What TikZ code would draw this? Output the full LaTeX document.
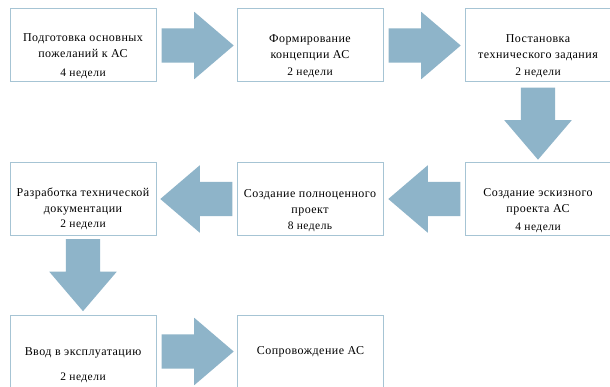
\documentclass[tikz,border=0pt]{standalone}
\usepackage{fontspec}
\setmainfont{Liberation Serif}[LetterSpace=4]
\usetikzlibrary{shapes.arrows,calc}
\definecolor{boxc}{RGB}{166,196,212}
\definecolor{arrc}{RGB}{142,180,201}
\tikzset{
  stagebox/.style={draw=boxc, line width=1pt, fill=white, minimum width=146pt, minimum height=73pt, inner sep=0pt},
  stagetext/.style={align=center, inner sep=0pt, font=\fontsize{12}{16}\selectfont},
  blockarrow/.style={single arrow, fill=arrc, draw=none, inner xsep=0pt, inner ysep=17pt,
     single arrow head extend=16.5pt, single arrow tip angle=81, single arrow head indent=0pt,
     minimum height=72pt, anchor=tail}
}
\newcommand{\wk}{\fontsize{11.5}{16}\selectfont}
\begin{document}
\begin{tikzpicture}[x=1pt,y=-1pt]
\useasboundingbox (0,0) rectangle (610,387);
\clip (0,0) rectangle (610,387);
\fill[white] (0,0) rectangle (610,387);
% boxes
\node[stagebox] (b1) at (83,45.5) {};
\node[stagebox] (b2) at (310,45.5) {};
\node[stagebox] (b3) at (538,45.5) {};
\node[stagebox] (b4) at (83,199) {};
\node[stagebox] (b5) at (310,199) {};
\node[stagebox] (b6) at (538,199) {};
\node[stagebox] (b7) at (83,351.5) {};
\node[stagebox] (b8) at (310.5,351.5) {};
% texts
\node[stagetext] (t1) at ($(b1.center)+(0,11)$) {Подготовка основных\\пожеланий к АС\\[3pt]\wk 4 недели};
\node[stagetext] (t2) at ($(b2.center)+(0,11)$) {Формирование\\концепции АС\\[1pt]\wk 2 недели};
\node[stagetext] (t3) at ($(b3.center)+(0,11)$) {Постановка\\технического задания\\[1pt]\wk 2 недели};
\node[stagetext] (t4) at ($(b4.center)+(0,10)$) {Разработка технической\\документации\\[-1pt]\wk 2 недели};
\node[stagetext] (t5) at ($(b5.center)+(0,12)$) {Создание полноценного\\проект\\[0pt]\wk 8 недель};
\node[stagetext] (t6) at ($(b6.center)+(0,12)$) {Создание эскизного\\проекта АС\\[2pt]\wk 4 недели};
\node[stagetext] (t7) at ($(b7.center)+(0,13.5)$) {Ввод в эксплуатацию\\[9pt]\wk 2 недели};
\node[stagetext] (t8) at ($(b8.center)+(0,0.5)$) {Сопровождение АС};
% arrows
\node[blockarrow] (a1) at ($(b1.east)+(5,0)$) {};
\node[blockarrow] (a2) at ($(b2.east)+(5,0)$) {};
\node[blockarrow, rotate=-90] (a3) at ($(b3.south)+(0,5)$) {};
\node[blockarrow, rotate=180] (a4) at ($(b6.west)+(-4,0)$) {};
\node[blockarrow, rotate=180] (a5) at ($(b5.west)+(-4,0)$) {};
\node[blockarrow, rotate=-90] (a6) at ($(b4.south)+(0,3)$) {};
\node[blockarrow] (a7) at ($(b7.east)+(5,0)$) {};
\end{tikzpicture}
\end{document}
